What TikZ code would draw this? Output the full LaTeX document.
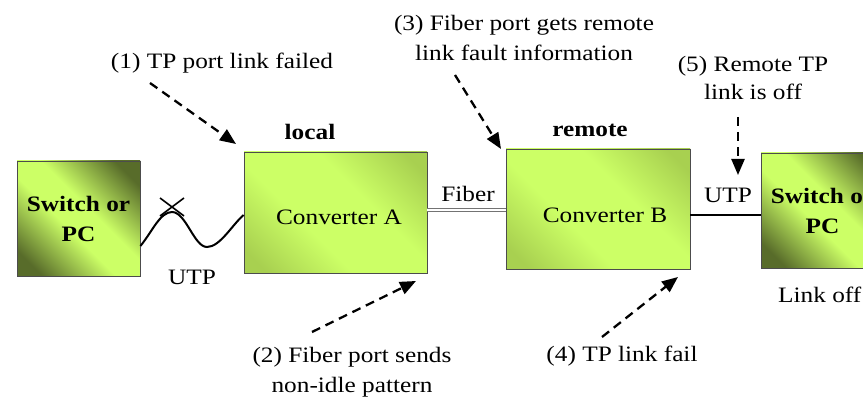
\documentclass[tikz,border=0pt]{standalone}
\usepackage{fontspec}
\setmainfont{Liberation Serif}[FakeStretch=1.15]
\usetikzlibrary{arrows.meta}
\definecolor{lt}{RGB}{204,255,102}
\definecolor{dk}{RGB}{88,108,42}
\definecolor{md}{RGB}{168,208,80}
\pgfdeclareverticalshading{swshade}{100bp}{color(0bp)=(dk); color(22bp)=(dk); color(44bp)=(lt); color(56bp)=(lt); color(78bp)=(dk); color(100bp)=(dk)}
\pgfdeclareverticalshading{cvshade}{100bp}{color(0bp)=(md); color(20bp)=(md); color(40bp)=(lt); color(60bp)=(lt); color(80bp)=(md); color(100bp)=(md)}
\tikzset{
  swbox/.style={draw=black!70, line width=0.8pt, shading=swshade, shading angle=-45,
    minimum width=123pt, minimum height=115pt, inner sep=0pt, align=center, font=\fontsize{22}{30}\selectfont\bfseries},
  cvbox/.style={draw=black!70, line width=0.8pt, shading=cvshade, shading angle=-45,
    inner sep=0pt, text depth=0pt},
  txt/.style={inner sep=0pt, anchor=base, align=center},
  note/.style={line width=2.3pt, dash pattern=on 9pt off 6pt, -{Triangle[length=16pt,width=13pt]}},
  wire/.style={line width=2pt}
}
\begin{document}
\begin{tikzpicture}[x=1pt,y=-1pt,font=\fontsize{22}{30}\selectfont]
\useasboundingbox (0,0) rectangle (863,398);
\clip (0,0) rectangle (863,398);
% boxes
\node[swbox] (swL) at (78.5,218.5) {Switch or\\PC};
\node[cvbox, minimum width=183pt, minimum height=121pt, text height=25pt] (cvA) at (335.5,212.5) {Converter A\hspace*{-7pt}};
\node[cvbox, minimum width=184pt, minimum height=120pt, text height=28pt] (cvB) at (598,209) {\hspace*{14pt}Converter B};
\node[swbox] (swR) at (822.5,210.5) {Switch or\\PC};
% connectors
\draw[wire] ([yshift=-27.5pt]swL.east) .. controls (152,232) and (160,212) .. (172,212)
  .. controls (186,212) and (194,247) .. (207,247)
  .. controls (220,247) and (232,225) .. ([yshift=-2.5pt]cvA.west);
\draw[line width=1.6pt] (160,198) -- (184,216) (160,216) -- (184,198);
\draw[draw=black!55, line width=0.8pt, double=white, double distance=2pt]
  ([yshift=2.5pt]cvA.east) -- ([yshift=2.5pt]cvA.east -| cvB.west);
\draw[line width=2.4pt] ([yshift=-6pt]cvB.east) -- ([yshift=-6pt]cvB.east -| swR.west);
% labels
\node[txt] (tUTPl) at (192,285) {UTP};
\node[txt] (tFiber) at (468,202) {Fiber};
\node[txt] (tUTPr) at (728,203) {UTP};
\node[txt, anchor=base west] (tLink) at (778,303) {Link off};
\node[txt, font=\fontsize{22}{30}\selectfont\bfseries] (tLocal) at (310,140) {local};
\node[txt, font=\fontsize{22}{30}\selectfont\bfseries] (tRemote) at (590,137) {remote};
% annotations
\node[txt] (n1) at (222,69) {(1) TP port link failed};
\node[txt] (n2) at (352,392) {(2) Fiber port sends\\non-idle pattern};
\node[txt] (n3) at (524,61) {(3) Fiber port gets remote\\link fault information};
\node[txt] (n4) at (622,362) {(4) TP link fail};
\node[txt, font=\fontsize{22}{28}\selectfont] (n5) at (753,100) {(5) Remote TP\\link is off};
% annotation arrows
\coordinate (a1s) at (150,83);  \coordinate (a1e) at (236,144);
\coordinate (a2s) at (312,332); \coordinate (a2e) at (416,281);
\coordinate (a3s) at (455,75);  \coordinate (a3e) at (501,149);
\coordinate (a4s) at (602,337); \coordinate (a4e) at (678,277);
\coordinate (a5s) at (738,117); \coordinate (a5e) at (738,175);
\draw[note] (a1s) -- (a1e);
\draw[note] (a2s) -- (a2e);
\draw[note] (a3s) -- (a3e);
\draw[note] (a4s) -- (a4e);
\draw[note] (a5s) -- (a5e);
\end{tikzpicture}
\end{document}
